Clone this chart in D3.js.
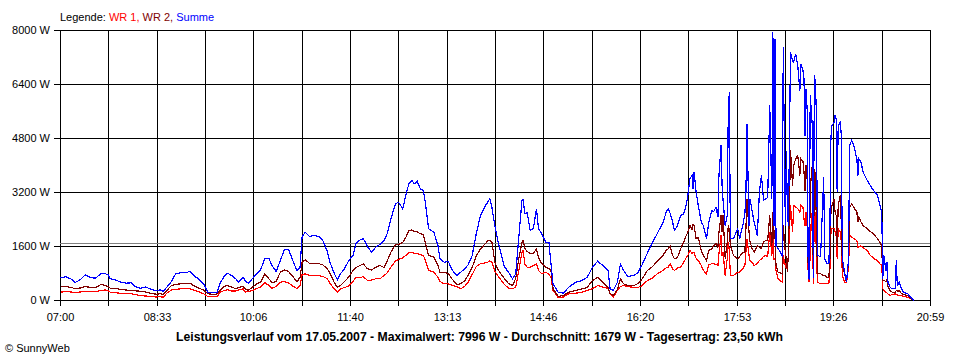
<!DOCTYPE html>
<html><head><meta charset="utf-8">
<script src="https://cdn.jsdelivr.net/npm/d3@7"></script>
<style>
body{margin:0;background:#fff}
svg{display:block}
text{font-family:"Liberation Sans",Arial,sans-serif;font-size:11px;fill:#000}
</style>
</head><body>
<svg id="chart" width="960" height="360"></svg>
<script>
// minutes after 07:00
const minutes = [
0,5,10,14,19,24,29,34,39,43, 46,48,53,58,63,68,72,77,82,87,
92,96,99,103,107,111,116,121,125,129, 133,138,142,148,151,154,158,161,165,169,
172,176,178,181,185,189,193,197,201,204, 208,212,216,220,224,228,231,233,236,240,
244,249,253,257,260,264,267,270,274,278, 282,285,288,292,296,300,304,308,312,315,
319,323,326,330,333,336,339,341,344,347, 350,352,355,360,364,366,370,374,378,382,
386,390,393,397,401,405,409,412,414,416, 419,421,424,428,432,436,439,442,445,446,
448,450,453,456,459,461,464,468,471,473, 475,480,485,490,497,503,508,513,518,523,
528,530,533,537,540,543,547,553,557,561, 566,571,576,581,584,586,588,590,592,595,
598,601,603,605,607,609,610,611,613,615, 618,620,623,625,628,630,632,634,635,637,
638,639,641,643,644,645,646,649,653,655, 658,660,661,662,664,665,667,669,672,674,
676,678,680,682,684,686,687,688,689,690, 692,696,697,699,700,701,702,704,706,707,
709,711,713,714,716,717,718,719,720,721, 722,723,724,725,726,727,728,729,730,733,
736,737,739,741,742,743,744,746,747,748, 749,750,752,753,754,756,758,759,760,761,
763,765,768,769,770,772,774,778,781,784, 788,791,792,793,794,796,797,798,800,802,
805,806,807,809,811,813,817,820,823
];
// Summe (W)
const summe = [
673,702,643,533,613,761,673,664,800,800, 756,643,607,548,513,524,415,364,400,335,
287,317,267,415,563,791,821,821,868,726, 643,495,246,228,237,513,726,809,741,643,
542,690,593,513,643,791,910,1244,1244,1037, 859,1185,1511,1511,1185,889,987,1896,2024,1896,
1926,1896,1778,1481,1126,800,613,791,948,1185, 1333,1680,1778,1837,1600,1431,1579,1659,1778,1976,
2459,2865,2913,2717,3111,3467,3556,3452,3535,3310, 3259,2865,2124,2024,1630,1235,1135,1156,889,741,
839,948,1052,1333,1985,2519,2770,2913,3013,2765, 2193,1876,1481,1007,839,643,791,1876,2963,2984,
2569,2607,2074,2133,2717,2124,1985,1719,1727,1087, 495,246,216,394,542,593,690,987,1164,1037,
889,347,296,542,1087,889,711,741,830,1067, 1407,1719,2015,2311,2607,2717,2578,2370,2074,2222,
2519,2569,2765,3111,3606,3704,3310,3802,3209,2815, 2320,2222,1828,2273,2667,2637,2765,2468,3704,4593,
3407,2963,2222,2519,5680,6172,1828,1837,2124,1837, 2222,2569,3209,5236,2222,3013,2637,2320,1926,3209,
3704,2963,3013,3052,5778,3022,7950,2222,7754,1630, 1541,1333,7506,2222,4444,2607,2222,7358,7111,7061,
7310,6963,6222,7013,6815,6569,4889,6273,5680,1185, 593,6074,5630,5185,652,6667,6469,5481,1333,1304,
3654,1244,1087,1087,2222,4839,5185,5283,5481,5384, 3209,5185,5283,4889,1235,870,545,889,1244,4593,
4741,4593,4198,3704,4198,4098,3802,3556,3407,3259, 3111,2717,2616,643,1333,889,1135,542,394,347,
347,1185,444,542,347,246,199,98,0
];
// WR 2 (W)
const wr2 = [
415,415,385,356,370,415,385,385,474,444, 415,364,356,326,311,296,287,276,252,216,
187,199,178,311,444,474,495,504,513,430, 370,311,199,178,193,296,415,444,400,347,
385,415,347,296,394,489,542,785,643,533, 563,839,904,859,711,548,690,1126,1206,1105,
1096,1096,1052,948,800,533,394,444,563,696, 889,978,1022,1087,939,904,987,1037,978,1170,
1452,1659,1659,1719,1867,2074,2089,2044,2030,1976, 1956,1680,1333,1283,1037,839,830,800,622,474,
495,593,741,978,1333,1526,1659,1763,1778,1727, 1126,978,815,652,504,444,652,1244,1719,1778,
1541,1452,1393,1393,1532,1283,1096,987,948,889, 347,119,148,246,296,347,385,593,681,548,
394,207,148,326,643,495,444,444,504,643, 889,1007,1185,1333,1481,1532,1600,1363,1235,1274,
1532,1727,1896,2024,2222,2104,2243,2222,1828,1867, 1481,1333,1185,1481,1532,1630,1689,1579,2024,2519,
2024,2519,1235,1727,2222,2074,1630,1333,1235,1304, 1422,1431,2124,3013,2024,1727,1541,1431,1630,1570,
1541,1727,1778,1778,2519,1630,2616,1837,2074,1037, 839,791,2222,1431,1235,839,1431,4444,3407,4000,
4198,4296,3704,4198,4119,3802,3259,4000,3606,1037, 593,3209,3704,4000,652,3902,3704,2222,791,791,
741,741,690,690,1235,2616,2815,3013,2616,2519, 1630,2815,3111,2222,1037,800,540,840,1200,2765,
2865,2765,2616,2320,2468,2320,2222,2124,2044,1976, 1828,1680,1630,600,593,563,643,415,296,246,
246,296,281,281,207,178,148,50,0
];
// WR 1 (W)
const wr1 = [
246,267,252,228,252,276,267,267,296,311, 296,246,228,216,207,199,178,148,133,119,
104,110,98,230,311,326,347,347,347,305, 267,199,119,110,119,246,296,317,281,281,
317,347,246,267,296,356,394,533,444,364, 415,542,563,513,430,356,444,770,791,741,
741,741,711,652,504,341,246,347,385,430, 563,690,667,711,593,607,643,643,741,815,
1007,1170,1215,1265,1333,1422,1422,1402,1384,1363, 1333,1185,889,839,690,563,495,495,444,415,
347,430,533,770,1007,1087,1111,1135,1170,1126, 859,770,643,474,370,347,394,889,1422,1481,
1067,987,987,1037,1087,889,800,839,770,690, 296,89,104,199,216,246,296,347,444,400,
356,199,98,296,415,444,415,385,385,444, 593,673,800,889,963,987,1087,948,889,963,
987,1135,1244,1333,1481,1393,1431,1422,1244,1185, 1037,889,791,1058,1087,1087,1067,1037,1384,1926,
1333,1431,741,1244,1727,1481,741,741,839,839, 948,1037,1431,1828,1333,1185,1126,1037,1096,1185,
1235,1304,1333,1304,2024,1333,1828,1235,1244,889, 643,542,1333,1037,939,948,1333,2815,2024,2815,
2765,2726,2616,2815,2756,2421,2222,2616,2222,889, 540,1431,2370,2616,495,2667,2569,1235,542,495,
495,495,495,495,939,2024,2133,2124,2024,1926, 1235,2124,2024,1727,741,542,530,741,1037,1926,
1876,1837,1778,1579,1600,1615,1570,1481,1333,1259, 1170,1058,1052,347,296,246,222,193,148,178,
199,178,163,148,139,127,89,50,0
];
const yTicks = [0, 1600, 3200, 4800, 6400, 8000];
const xTickLabels = ["07:00","08:33","10:06","11:40","13:13","14:46","16:20","17:53","19:26","20:59"];
const dayLength = 839;      // 07:00 .. 20:59 in minutes
const gridCount = 18;
const average = 1679;
const titleText = "Leistungsverlauf vom 17.05.2007 - Maximalwert: 7996 W - Durchschnitt: 1679 W - Tagesertrag: 23,50 kWh";

const svg = d3.select("#chart");
const x = d3.scaleLinear().domain([0, dayLength]).range([60, 930]);
const y = d3.scaleLinear().domain([0, 8000]).range([300, 30]);
const xGrid = d3.range(gridCount + 1).map(i => i * dayLength / gridCount);

// grid
const g = svg.append("g").attr("shape-rendering", "crispEdges");
g.selectAll("line.v").data(xGrid).join("line")
  .attr("x1", d => Math.round(x(d)) + 0.5).attr("x2", d => Math.round(x(d)) + 0.5)
  .attr("y1", y(8000)).attr("y2", y(0))
  .attr("stroke", "#000").attr("stroke-width", 1);
g.selectAll("line.h").data(yTicks).join("line")
  .attr("x1", x(0)).attr("x2", Math.round(x(dayLength)) + 1)
  .attr("y1", d => Math.round(y(d)) + 0.5).attr("y2", d => Math.round(y(d)) + 0.5)
  .attr("stroke", "#000").attr("stroke-width", 1);

// axes
const xAxis = d3.axisBottom(x).tickValues(xGrid).tickSize(5).tickSizeOuter(0).tickPadding(8)
  .tickFormat((d, i) => i % 2 === 0 ? xTickLabels[i / 2] : "");
const ax = svg.append("g").attr("transform", "translate(0.5,300.5)").attr("shape-rendering","crispEdges").call(xAxis);
ax.select(".domain").remove();
ax.selectAll(".tick line").attr("stroke", "#000");
ax.selectAll("text").attr("font-size", 11).attr("font-family", null).style("fill","#000");
ax.selectAll(".tick").attr("transform", d => `translate(${Math.round(x(d))},0)`);

const yAxis = d3.axisLeft(y).tickValues(yTicks).tickSize(6).tickSizeOuter(0).tickPadding(4)
  .tickFormat(d => d + " W");
const ay = svg.append("g").attr("transform", "translate(60,0.5)").attr("shape-rendering","crispEdges").call(yAxis);
ay.select(".domain").remove();
ay.selectAll(".tick line").attr("stroke", "#000");
ay.selectAll("text").attr("font-size", 11).attr("font-family", null).style("fill","#000");
ay.selectAll(".tick").attr("transform", d => `translate(0,${Math.round(y(d))})`);

// average line
svg.append("line").attr("shape-rendering", "crispEdges")
  .attr("x1", x(0)).attr("x2", x(dayLength))
  .attr("y1", Math.round(y(average)) + 0.5).attr("y2", Math.round(y(average)) + 0.5)
  .attr("stroke", "#808080").attr("stroke-width", 1);

// series
const series = [
  {name: "WR 1", values: wr1, color: "#ff0000"},
  {name: "WR 2", values: wr2, color: "#800000"},
  {name: "Summe", values: summe, color: "#0000ff"}
];
const line = d3.line().x(d => x(d[0]) + 0.5).y(d => y(d[1]) + 0.5);
svg.append("g").selectAll("path").data(series).join("path")
  .attr("d", s => line(minutes.map((m, i) => [m, s.values[i]])))
  .attr("fill", "none").attr("stroke", s => s.color).attr("stroke-width", 1.2)
  .attr("shape-rendering", "crispEdges");

// legend
const leg = svg.append("text").attr("x", 60).attr("y", 21);
leg.append("tspan").text("Legende: ");
series.forEach((s, i) => {
  leg.append("tspan").style("fill", s.color).text(s.name + (i < series.length - 1 ? ", " : ""));
});

// title
svg.append("text").attr("x", 479.5).attr("y", 341).attr("text-anchor", "middle")
  .attr("font-weight", "bold").style("font-size", "12px")
  .attr("textLength", 607).attr("lengthAdjust", "spacingAndGlyphs").text(titleText);

// copyright
svg.append("text").attr("x", 5).attr("y", 352).text("\u00A9 SunnyWeb");
</script>
</body></html>
